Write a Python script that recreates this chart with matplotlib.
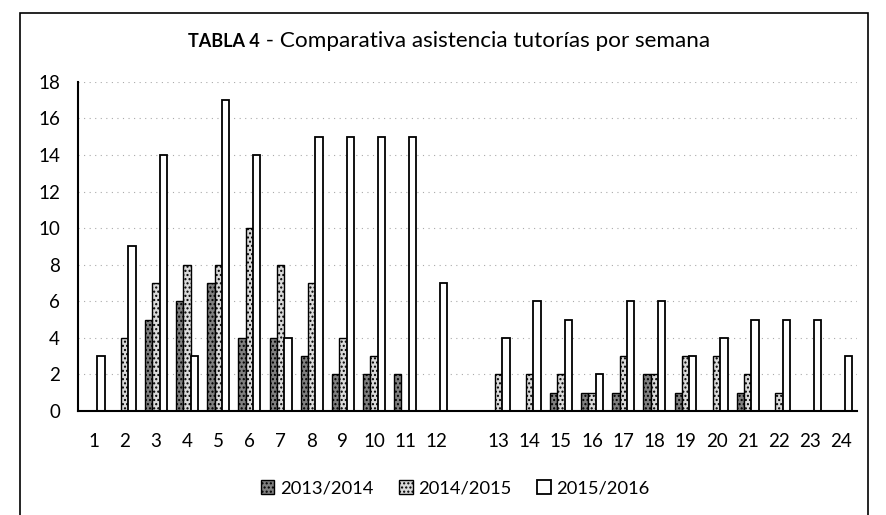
#Importing necessary libraries
import numpy as np
import matplotlib.pyplot as plt
from matplotlib.patches import Rectangle

#Weeks (blank slot between 12 and 13 as in the original)
weeks = ["1", "2", "3", "4", "5", "6", "7", "8", "9", "10", "11", "12", "",
         "13", "14", "15", "16", "17", "18", "19", "20", "21", "22", "23", "24"]

#Attendance per course year
y_2013 = [0, 0, 5, 6, 7, 4, 4, 3, 2, 2, 2, 0, 0,
          0, 0, 1, 1, 1, 2, 1, 0, 1, 0, 0, 0]
y_2014 = [0, 4, 7, 8, 8, 10, 8, 7, 4, 3, 0, 0, 0,
          2, 2, 2, 1, 3, 2, 3, 3, 2, 1, 0, 0]
y_2015 = [3, 9, 14, 3, 17, 14, 4, 15, 15, 15, 15, 7, 0,
          4, 6, 5, 2, 6, 6, 3, 4, 5, 5, 5, 3]

labels = ["2013/2014", "2014/2015", "2015/2016"]

plt.rcParams['font.family'] = ['Lato', 'DejaVu Sans']
plt.rcParams['hatch.color'] = "#8a8a8a"

fig = plt.figure(figsize=(8.87, 5.15), dpi=100)
ax = fig.add_axes([0.088, 0.202, 0.878, 0.639])

x = np.arange(len(weeks))
w = 0.235
ax.bar(x - w, y_2013, w, color="#808080", edgecolor="black", linewidth=1.0,
       hatch="....", label=labels[0])
ax.bar(x, y_2014, w, color="#dadada", edgecolor="black", linewidth=1.0,
       hatch="....", label=labels[1])
ax.bar(x + w, y_2015, w, color="white", edgecolor="black", linewidth=1.3,
       label=labels[2])

ax.set_ylim(0, 18)
ax.set_xlim(-0.5, len(weeks) - 0.5)
ax.set_yticks(range(0, 19, 2))
ax.set_xticks(x)
ax.set_xticklabels(weeks)
ax.tick_params(length=0, labelsize=13.5)
ax.tick_params(axis="x", pad=16)
ax.tick_params(axis="y", pad=13)
ax.grid(axis="y", linestyle=(0, (1, 4)), color="#aaaaaa", linewidth=0.8)
ax.set_axisbelow(True)
for s in ["top", "right"]:
    ax.spines[s].set_visible(False)
ax.spines["left"].set_linewidth(1.5)
ax.spines["bottom"].set_linewidth(1.5)

#Title with bold prefix
fig.text(0.293, 0.920, "TABLA 4", fontsize=13, fontweight="bold", ha="right", va="center")
fig.text(0.293, 0.920, " - Comparativa asistencia tutorías por semana", fontsize=16.2,
         ha="left", va="center")

fig.legend(loc="center", bbox_to_anchor=(0.513, 0.052), ncol=3, frameon=False,
           fontsize=13.2, handlelength=0.75, handleheight=0.75, handletextpad=0.3,
           columnspacing=1.4)

#Outer frame
fig.patches.append(Rectangle((0.023, -0.1), 0.956, 1.075, transform=fig.transFigure,
                             fill=False, edgecolor="black", linewidth=1.2))

plt.savefig("out.png", dpi=100)
